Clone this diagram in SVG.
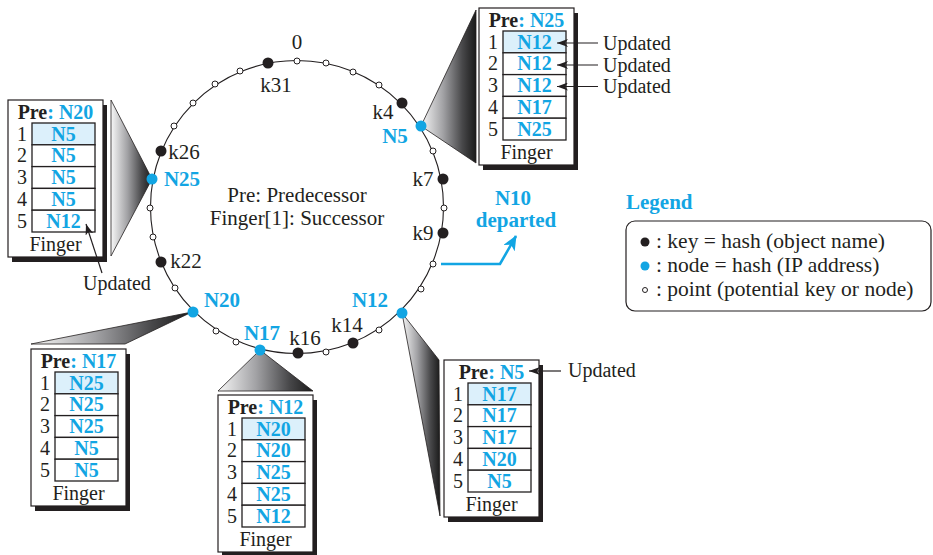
<svg xmlns="http://www.w3.org/2000/svg" width="933" height="555" viewBox="0 0 933 555">
<defs>
<style>
.t{font-family:"Liberation Serif","Times New Roman",serif;font-size:21px;fill:#231f20}
.s{font-size:20px}
.c{text-anchor:middle}
.bl{font-weight:bold;fill:#12a5e3}
.bk{font-weight:bold}
.lg{font-size:21.5px}
.frame{fill:#fff;stroke:#231f20;stroke-width:1.2}
.shadow{fill:#231f20}
.cell{fill:#fff;stroke:#231f20;stroke-width:1.3}
.cell1{fill:#dcf0fb;stroke:#231f20;stroke-width:1.3}
.wedge{fill:url(#wg);stroke:#231f20;stroke-width:0.8}
.key{fill:#231f20}
.node{fill:#12a5e3}
.pt{fill:#fff;stroke:#231f20;stroke-width:1}
.arr{fill:none;stroke:#231f20;stroke-width:1.2}
</style>
<linearGradient id="wg" x1="0" y1="0" x2="1" y2="0">
<stop offset="0" stop-color="#f7f7f7"/>
<stop offset="0.4" stop-color="#a2a2a5"/>
<stop offset="0.75" stop-color="#48484a"/>
<stop offset="1" stop-color="#1a1a1a"/>
</linearGradient>
<marker id="ah" markerUnits="userSpaceOnUse" markerWidth="11" markerHeight="8" refX="11" refY="4" orient="auto">
<path d="M0,0 L11,4 L0,8 L3,4 z" fill="#231f20"/>
</marker>
<marker id="bh" markerUnits="userSpaceOnUse" markerWidth="15" markerHeight="13" refX="14" refY="6.5" orient="auto">
<path d="M0,0 L15,6.5 L0,13 L4,6.5 z" fill="#12a5e3"/>
</marker>
</defs>
<rect width="933" height="555" fill="#fff"/>

<g id="connectors">
<polygon class="wedge" points="421,126 476,10 476,163"/>
<polygon class="wedge" points="152,179 111,100 111,256"/>
<polygon class="wedge" points="192,312 31,344 125,344"/>
<polygon class="wedge" points="260,350 218,391 313,391"/>
<polygon class="wedge" points="402,313 439,360 440,516"/>
<path d="M441,264 L500,264 L516,236" fill="none" stroke="#12a5e3" stroke-width="2.6" marker-end="url(#bh)"/>
</g>

<g id="ring">
<circle cx="297" cy="207" r="146.5" fill="none" stroke="#231f20" stroke-width="1.1"/>
<circle class="pt" cx="297" cy="61" r="3"/>
<circle class="pt" cx="326" cy="63" r="3"/>
<circle class="pt" cx="353" cy="72" r="3"/>
<circle class="pt" cx="379" cy="85" r="3"/>
<circle class="pt" cx="433" cy="151" r="3"/>
<circle class="pt" cx="444" cy="208" r="3"/>
<circle class="pt" cx="433" cy="264" r="3"/>
<circle class="pt" cx="421" cy="289" r="3"/>
<circle class="pt" cx="379" cy="330" r="3"/>
<circle class="pt" cx="326" cy="352" r="3"/>
<circle class="pt" cx="236" cy="342" r="3"/>
<circle class="pt" cx="216" cy="331" r="3"/>
<circle class="pt" cx="175" cy="288" r="3"/>
<circle class="pt" cx="153" cy="237" r="3"/>
<circle class="pt" cx="150" cy="208" r="3"/>
<circle class="pt" cx="174" cy="126" r="3"/>
<circle class="pt" cx="193" cy="103" r="3"/>
<circle class="pt" cx="215" cy="84" r="3"/>
<circle class="pt" cx="240" cy="71" r="3"/>
<text class="t c" x="297" y="49">0</text>
<text class="t c" x="297" y="202">Pre: Predecessor</text>
<text class="t c" x="297" y="225">Finger[1]: Successor</text>
</g>

<g id="k31"><circle class="key" cx="268" cy="63" r="5.5"/><text class="t c" x="276" y="92">k31</text></g>
<g id="k4"><circle class="key" cx="402" cy="103" r="5.5"/><text class="t c" x="383" y="119">k4</text></g>
<g id="k7"><circle class="key" cx="443" cy="179" r="5.5"/><text class="t c" x="423" y="186">k7</text></g>
<g id="k9"><circle class="key" cx="443" cy="233" r="5.5"/><text class="t c" x="423" y="240">k9</text></g>
<g id="k14"><circle class="key" cx="353" cy="343" r="5.5"/><text class="t c" x="347" y="332">k14</text></g>
<g id="k16"><circle class="key" cx="298" cy="353" r="5.5"/><text class="t c" x="305" y="345">k16</text></g>
<g id="k22"><circle class="key" cx="161" cy="262" r="5.5"/><text class="t c" x="186" y="268">k22</text></g>
<g id="k26"><circle class="key" cx="161" cy="151" r="5.5"/><text class="t c" x="184" y="159">k26</text></g>

<g id="N5"><circle class="node" cx="421" cy="126" r="5.5"/><text class="t c bl" x="395" y="143">N5</text></g>
<g id="N12"><circle class="node" cx="402" cy="313" r="5.5"/><text class="t c bl" x="370" y="307">N12</text></g>
<g id="N17"><circle class="node" cx="260" cy="350" r="5.5"/><text class="t c bl" x="262" y="340">N17</text></g>
<g id="N20"><circle class="node" cx="193" cy="312" r="5.5"/><text class="t c bl" x="222" y="307">N20</text></g>
<g id="N25"><circle class="node" cx="152" cy="179" r="5.5"/><text class="t c bl" x="182" y="186">N25</text></g>

<g id="N10-departed">
<text class="t c bl" x="513" y="205">N10</text>
<text class="t c bl" x="516" y="227">departed</text>
</g>

<g id="table-N5" transform="translate(479,8)">
<rect class="shadow" x="4" y="5" width="95" height="157"/>
<rect class="frame" x="0" y="0" width="95" height="157"/>
<text class="t s c" x="47.5" y="19"><tspan class="bk">Pre</tspan><tspan class="bl">: N25</tspan></text>
<rect class="cell1" x="24" y="23" width="63" height="21.8"/>
<rect class="cell" x="24" y="44.8" width="63" height="21.8"/>
<rect class="cell" x="24" y="66.6" width="63" height="21.8"/>
<rect class="cell" x="24" y="88.4" width="63" height="21.8"/>
<rect class="cell" x="24" y="110.2" width="63" height="21.8"/>
<text class="t s c" x="14" y="40.5">1</text><text class="t s c bl" x="55.5" y="40.5">N12</text>
<text class="t s c" x="14" y="62.3">2</text><text class="t s c bl" x="55.5" y="62.3">N12</text>
<text class="t s c" x="14" y="84.1">3</text><text class="t s c bl" x="55.5" y="84.1">N12</text>
<text class="t s c" x="14" y="105.9">4</text><text class="t s c bl" x="55.5" y="105.9">N17</text>
<text class="t s c" x="14" y="127.7">5</text><text class="t s c bl" x="55.5" y="127.7">N25</text>
<text class="t s c" x="47.5" y="151">Finger</text>
</g>
<g id="upd-N5">
<text class="t s" x="603" y="50">Updated</text>
<text class="t s" x="603" y="72">Updated</text>
<text class="t s" x="603" y="93">Updated</text>
</g>

<g id="table-N25" transform="translate(8,100)">
<rect class="shadow" x="4" y="5" width="95" height="157"/>
<rect class="frame" x="0" y="0" width="95" height="157"/>
<text class="t s c" x="47.5" y="19"><tspan class="bk">Pre</tspan><tspan class="bl">: N20</tspan></text>
<rect class="cell1" x="24" y="23" width="63" height="21.8"/>
<rect class="cell" x="24" y="44.8" width="63" height="21.8"/>
<rect class="cell" x="24" y="66.6" width="63" height="21.8"/>
<rect class="cell" x="24" y="88.4" width="63" height="21.8"/>
<rect class="cell" x="24" y="110.2" width="63" height="21.8"/>
<text class="t s c" x="14" y="40.5">1</text><text class="t s c bl" x="55.5" y="40.5">N5</text>
<text class="t s c" x="14" y="62.3">2</text><text class="t s c bl" x="55.5" y="62.3">N5</text>
<text class="t s c" x="14" y="84.1">3</text><text class="t s c bl" x="55.5" y="84.1">N5</text>
<text class="t s c" x="14" y="105.9">4</text><text class="t s c bl" x="55.5" y="105.9">N5</text>
<text class="t s c" x="14" y="127.7">5</text><text class="t s c bl" x="55.5" y="127.7">N12</text>
<text class="t s c" x="47.5" y="151">Finger</text>
</g>
<g id="upd-N25"><text class="t s c" x="117" y="290">Updated</text></g>

<g id="table-N20" transform="translate(31,349)">
<rect class="shadow" x="4" y="5" width="95" height="157"/>
<rect class="frame" x="0" y="0" width="95" height="157"/>
<text class="t s c" x="47.5" y="19"><tspan class="bk">Pre</tspan><tspan class="bl">: N17</tspan></text>
<rect class="cell1" x="24" y="23" width="63" height="21.8"/>
<rect class="cell" x="24" y="44.8" width="63" height="21.8"/>
<rect class="cell" x="24" y="66.6" width="63" height="21.8"/>
<rect class="cell" x="24" y="88.4" width="63" height="21.8"/>
<rect class="cell" x="24" y="110.2" width="63" height="21.8"/>
<text class="t s c" x="14" y="40.5">1</text><text class="t s c bl" x="55.5" y="40.5">N25</text>
<text class="t s c" x="14" y="62.3">2</text><text class="t s c bl" x="55.5" y="62.3">N25</text>
<text class="t s c" x="14" y="84.1">3</text><text class="t s c bl" x="55.5" y="84.1">N25</text>
<text class="t s c" x="14" y="105.9">4</text><text class="t s c bl" x="55.5" y="105.9">N5</text>
<text class="t s c" x="14" y="127.7">5</text><text class="t s c bl" x="55.5" y="127.7">N5</text>
<text class="t s c" x="47.5" y="151">Finger</text>
</g>

<g id="table-N17" transform="translate(218,395)">
<rect class="shadow" x="4" y="5" width="95" height="157"/>
<rect class="frame" x="0" y="0" width="95" height="157"/>
<text class="t s c" x="47.5" y="19"><tspan class="bk">Pre</tspan><tspan class="bl">: N12</tspan></text>
<rect class="cell1" x="24" y="23" width="63" height="21.8"/>
<rect class="cell" x="24" y="44.8" width="63" height="21.8"/>
<rect class="cell" x="24" y="66.6" width="63" height="21.8"/>
<rect class="cell" x="24" y="88.4" width="63" height="21.8"/>
<rect class="cell" x="24" y="110.2" width="63" height="21.8"/>
<text class="t s c" x="14" y="40.5">1</text><text class="t s c bl" x="55.5" y="40.5">N20</text>
<text class="t s c" x="14" y="62.3">2</text><text class="t s c bl" x="55.5" y="62.3">N20</text>
<text class="t s c" x="14" y="84.1">3</text><text class="t s c bl" x="55.5" y="84.1">N25</text>
<text class="t s c" x="14" y="105.9">4</text><text class="t s c bl" x="55.5" y="105.9">N25</text>
<text class="t s c" x="14" y="127.7">5</text><text class="t s c bl" x="55.5" y="127.7">N12</text>
<text class="t s c" x="47.5" y="151">Finger</text>
</g>

<g id="table-N12" transform="translate(444,360)">
<rect class="shadow" x="4" y="5" width="95" height="157"/>
<rect class="frame" x="0" y="0" width="95" height="157"/>
<text class="t s c" x="47.5" y="19"><tspan class="bk">Pre</tspan><tspan class="bl">: N5</tspan></text>
<rect class="cell1" x="24" y="23" width="63" height="21.8"/>
<rect class="cell" x="24" y="44.8" width="63" height="21.8"/>
<rect class="cell" x="24" y="66.6" width="63" height="21.8"/>
<rect class="cell" x="24" y="88.4" width="63" height="21.8"/>
<rect class="cell" x="24" y="110.2" width="63" height="21.8"/>
<text class="t s c" x="14" y="40.5">1</text><text class="t s c bl" x="55.5" y="40.5">N17</text>
<text class="t s c" x="14" y="62.3">2</text><text class="t s c bl" x="55.5" y="62.3">N17</text>
<text class="t s c" x="14" y="84.1">3</text><text class="t s c bl" x="55.5" y="84.1">N17</text>
<text class="t s c" x="14" y="105.9">4</text><text class="t s c bl" x="55.5" y="105.9">N20</text>
<text class="t s c" x="14" y="127.7">5</text><text class="t s c bl" x="55.5" y="127.7">N5</text>
<text class="t s c" x="47.5" y="151">Finger</text>
</g>
<g id="upd-N12"><text class="t s" x="568" y="377">Updated</text></g>

<g id="update-arrows">
<line class="arr" x1="598" y1="43" x2="557" y2="43" marker-end="url(#ah)"/>
<line class="arr" x1="598" y1="65" x2="557" y2="65" marker-end="url(#ah)"/>
<line class="arr" x1="598" y1="86.5" x2="557" y2="86.5" marker-end="url(#ah)"/>
<line class="arr" x1="561" y1="371" x2="529" y2="371" marker-end="url(#ah)"/>
<line class="arr" x1="102" y1="273" x2="86" y2="224" marker-end="url(#ah)"/>
</g>

<g id="legend">
<text class="t bl" x="626" y="209">Legend</text>
<rect x="626" y="221" width="305" height="90" rx="9" fill="none" stroke="#231f20" stroke-width="1.2"/>
<circle class="key" cx="645" cy="242" r="4.5"/>
<text class="t lg" x="656" y="248">: key = hash (object name)</text>
<circle class="node" cx="645" cy="266" r="4.5"/>
<text class="t lg" x="656" y="272">: node = hash (IP address)</text>
<circle class="pt" cx="645" cy="290" r="2.5"/>
<text class="t lg" x="656" y="296">: point (potential key or node)</text>
</g>
</svg>
